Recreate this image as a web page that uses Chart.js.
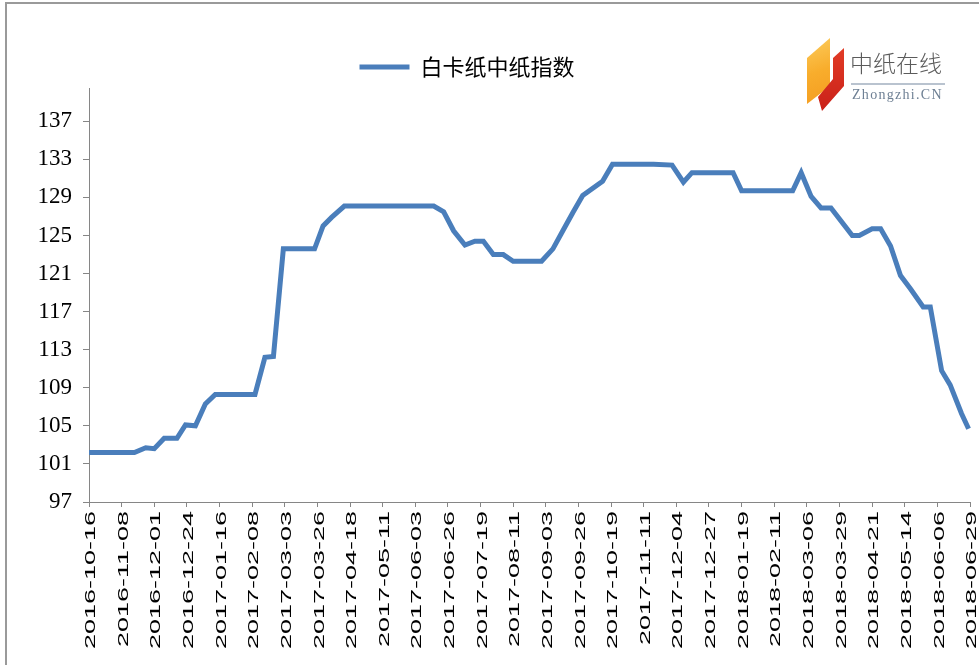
<!DOCTYPE html>
<html>
<head>
<meta charset="utf-8">
<script src="https://cdn.jsdelivr.net/npm/chart.js@4/dist/chart.umd.min.js"></script>
<style>
  html, body { margin: 0; padding: 0; background: #fff; }
  #wrap { position: relative; width: 979px; height: 665px; overflow: hidden; background: #fff; }
  #c { position: absolute; left: 0; top: 0; }
  #frame { position: absolute; left: 5px; top: 2px; width: 980px; height: 670px; border-left: 2px solid #9a9a9a; border-top: 2px solid #9a9a9a; pointer-events: none; }
  #logo { position: absolute; left: 800px; top: 30px; width: 150px; height: 85px; }
  #logo .o { position: absolute; left: 0; top: 0; width: 60px; height: 85px;
    background: linear-gradient(160deg, #fdd46a 0%, #f8ad2c 45%, #f2931a 100%);
    clip-path: polygon(7px 28px, 30px 8px, 30px 56px, 7px 74px); }
  #logo .r { position: absolute; left: 0; top: 0; width: 60px; height: 85px;
    background: linear-gradient(180deg, #e8432a 0%, #c81f18 100%);
    clip-path: polygon(33px 28px, 44px 18px, 44px 56px, 22px 81px, 18px 67px, 33px 49px); }
  #logo .cn { position: absolute; left: 50px; top: 18px; font-family: "Noto Sans CJK SC"; font-weight: 300; font-size: 23px; line-height: 28px; color: #5b5b5b; white-space: nowrap; }
  #logo .ln { position: absolute; left: 51px; top: 53px; width: 94px; height: 2px; background: #b9c3cf; }
  #logo .en { position: absolute; left: 52px; top: 57px; font-family: "Liberation Serif"; font-size: 14px; line-height: 16px; color: #6d7f93; letter-spacing: 1.3px; white-space: nowrap; }
</style>
</head>
<body>
<div id="wrap">
  <canvas id="c" width="979" height="665"></canvas>
  <div id="frame"></div>
  <div id="logo">
    <div class="o"></div>
    <div class="r"></div>
    <div class="cn">中纸在线</div>
    <div class="ln"></div>
    <div class="en">Zhongzhi.CN</div>
  </div>
</div>
<script>
// ---- data ----
const seriesName = '白卡纸中纸指数';
// x-axis tick labels, one every 23 days starting 2016-10-16
const tickLabels = ['2016-10-16','2016-11-08','2016-12-01','2016-12-24','2017-01-16','2017-02-08','2017-03-03','2017-03-26','2017-04-18','2017-05-11','2017-06-03','2017-06-26','2017-07-19','2017-08-11','2017-09-03','2017-09-26','2017-10-19','2017-11-11','2017-12-04','2017-12-27','2018-01-19','2018-02-11','2018-03-06','2018-03-29','2018-04-21','2018-05-14','2018-06-06','2018-06-29'];
const tickStepDays = 23;
// vertices of the index line: day offset from 2016-10-16, and index value
const pointDays = [0,32,40,46,53,62,68,75,82,89,117,124,130,137,159,165,171,180,243,250,257,265,272,278,285,292,299,319,327,334,341,348,362,369,398,411,419,425,454,460,496,502,509,516,523,538,543,552,558,565,572,579,588,593,601,607,615,620];
const indexValues = [102.2,102.2,102.7,102.6,103.7,103.7,105.1,105.0,107.3,108.3,108.3,112.2,112.3,123.6,123.6,126.0,126.9,128.1,128.1,127.5,125.5,124.0,124.4,124.4,123.0,123.0,122.3,122.3,123.6,125.5,127.4,129.2,130.7,132.5,132.5,132.4,130.6,131.6,131.6,129.7,129.7,131.6,129.1,127.9,127.9,125.0,125.0,125.7,125.7,123.9,120.8,119.4,117.5,117.5,110.8,109.3,106.3,104.7];
// y-axis tick values
const yTicks = [97,101,105,109,113,117,121,125,129,133,137];
const yMin = 97, yMax = 140.5;

const lineData = pointDays.map((d, i) => ({ x: d, y: indexValues[i] }));
const xMax = (tickLabels.length - 1) * tickStepDays;

const axisGray = '#868686';

// x tick labels (drawn after datasets, ticks.z = 1) are stretched along their length like the source picture
const xLabelStretch = {
  id: 'xLabelStretch',
  afterDatasetsDraw(chart) {
    const ctx = chart.ctx;
    const yAxis = chart.chartArea.bottom;
    ctx.save();
    ctx.translate(0, yAxis);
    ctx.scale(1, 1.8);
    ctx.translate(0, -yAxis);
  },
  afterDraw(chart) { chart.ctx.restore(); }
};
const legendShift = {
  id: 'legendShift',
  afterLayout(chart) {
    const lg = chart.legend;
    if (lg) { lg.left -= 18; lg.right -= 18; }
  }
};

new Chart(document.getElementById('c'), {
  type: 'line',
  data: {
    datasets: [{
      label: seriesName,
      data: lineData,
      borderColor: '#4a7ebb',
      backgroundColor: '#4a7ebb',
      borderWidth: 5,
      pointRadius: 0,
      tension: 0,
      fill: false,
      clip: false
    }]
  },
  options: {
    responsive: false,
    animation: false,
    events: [],
    layout: { padding: { left: 0, right: 9, top: 39, bottom: 0 } },
    plugins: {
      tooltip: { enabled: false },
      legend: {
        position: 'top',
        align: 'center',
        labels: {
          usePointStyle: true,
          pointStyle: 'line',
          pointStyleWidth: 50,
          padding: 17,
          color: '#000',
          font: { family: '"Noto Sans CJK SC"', size: 22 }
        }
      }
    },
    scales: {
      x: {
        type: 'linear',
        min: 0,
        max: xMax,
        afterBuildTicks(scale) {
          scale.ticks = tickLabels.map((_, i) => ({ value: i * tickStepDays }));
        },
        afterFit(scale) { scale.height = 163; scale.paddingLeft = 0; scale.paddingRight = 0; },
        grid: { drawOnChartArea: false, drawTicks: true, tickLength: 5, color: axisGray },
        border: { color: axisGray, width: 1 },
        ticks: {
          z: 1,
          autoSkip: false,
          minRotation: 90,
          maxRotation: 90,
          padding: 0,
          labelOffset: 2,
          color: '#000',
          font: { family: '"Liberation Sans"', size: 15 },
          callback(value) { return tickLabels[Math.round(value / tickStepDays)]; }
        }
      },
      y: {
        type: 'linear',
        min: yMin,
        max: yMax,
        afterBuildTicks(scale) {
          scale.ticks = yTicks.map(v => ({ value: v }));
        },
        afterFit(scale) { scale.width = 89; scale.paddingTop = 0; scale.paddingBottom = 0; },
        grid: { drawOnChartArea: false, drawTicks: true, tickLength: 6, color: axisGray },
        border: { color: axisGray, width: 1 },
        ticks: {
          padding: 11,
          color: '#000',
          font: { family: '"Liberation Serif"', size: 23 }
        }
      }
    }
  },
  plugins: [xLabelStretch, legendShift]
});
</script>
</body>
</html>
